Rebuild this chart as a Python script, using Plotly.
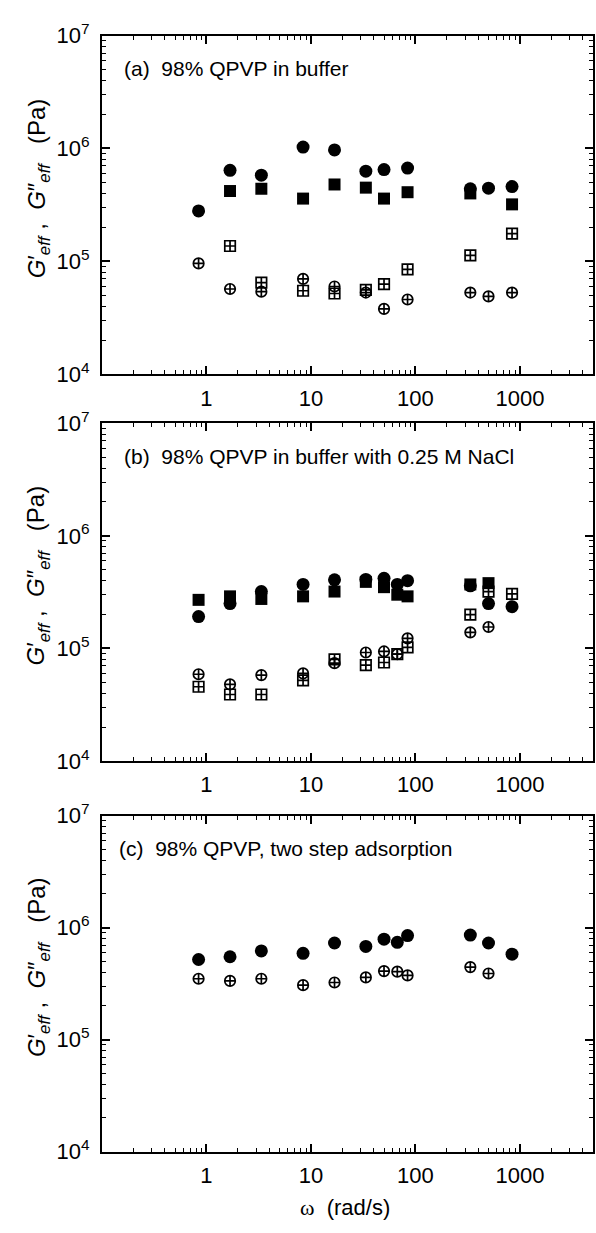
import plotly.graph_objects as go

# ---------------- data ----------------
# panel (a) 98% QPVP in buffer
w_a = [0.84, 1.68, 3.35, 8.4, 16.8, 33.5, 50, 84, 335, 500, 840]
a_fill_circle = [2.8e5, 6.4e5, 5.8e5, 1.03e6, 9.7e5, 6.3e5, 6.5e5, 6.7e5, 4.4e5, 4.45e5, 4.6e5]
w_a_sq = [1.68, 3.35, 8.4, 16.8, 33.5, 50, 84, 335, 840]
a_fill_square = [4.2e5, 4.4e5, 3.6e5, 4.8e5, 4.5e5, 3.6e5, 4.1e5, 4.0e5, 3.2e5]
a_open_square = [1.37e5, 6.5e4, 5.5e4, 5.2e4, 5.6e4, 6.3e4, 8.5e4, 1.13e5, 1.76e5]
a_open_circle = [9.6e4, 5.7e4, 5.4e4, 7.0e4, 6.0e4, 5.3e4, 3.8e4, 4.6e4, 5.3e4, 4.9e4, 5.3e4]

# panel (b) 98% QPVP in buffer with 0.25 M NaCl
w_b = [0.84, 1.68, 3.35, 8.4, 16.8, 33.5, 50, 67, 84, 335, 500, 840]
b_fill_circle = [1.92e5, 2.5e5, 3.2e5, 3.7e5, 4.07e5, 4.1e5, 4.2e5, 3.7e5, 4.0e5, 3.6e5, 2.5e5, 2.35e5]
w_b_sq = [0.84, 1.68, 3.35, 8.4, 16.8, 33.5, 50, 67, 84, 335, 500]
b_fill_square = [2.7e5, 2.9e5, 2.75e5, 2.9e5, 3.2e5, 3.9e5, 3.5e5, 3.0e5, 2.9e5, 3.7e5, 3.8e5]
b_open_square = [4.57e4, 3.9e4, 3.9e4, 5.2e4, 8.0e4, 7.1e4, 7.5e4, 8.9e4, 1.02e5, 2.0e5, 3.2e5, 3.05e5]
w_b_oc = [0.84, 1.68, 3.35, 8.4, 16.8, 33.5, 50, 67, 84, 335, 500]
b_open_circle = [5.9e4, 4.8e4, 5.8e4, 6.0e4, 7.4e4, 9.2e4, 9.4e4, 8.9e4, 1.23e5, 1.39e5, 1.55e5]

# panel (c) 98% QPVP, two step adsorption
w_c = [0.84, 1.68, 3.35, 8.4, 16.8, 33.5, 50, 67, 84, 335, 500, 840]
c_fill_circle = [5.2e5, 5.5e5, 6.2e5, 5.9e5, 7.3e5, 6.8e5, 7.9e5, 7.4e5, 8.5e5, 8.6e5, 7.3e5, 5.8e5]
w_c_oc = [0.84, 1.68, 3.35, 8.4, 16.8, 33.5, 50, 67, 84, 335, 500]
c_open_circle = [3.5e5, 3.35e5, 3.5e5, 3.07e5, 3.24e5, 3.6e5, 4.1e5, 4.05e5, 3.75e5, 4.45e5, 3.9e5]

panel_labels = ["(a)  98% QPVP in buffer",
                "(b)  98% QPVP in buffer with 0.25 M NaCl",
                "(c)  98% QPVP, two step adsorption"]
x_tickvals = [1, 10, 100, 1000]
x_ticktext = ["1", "10", "100", "1000"]
y_tickvals = [1e4, 1e5, 1e6, 1e7]
y_ticktext = ["10<sup>4</sup>", "10<sup>5</sup>", "10<sup>6</sup>", "10<sup>7</sup>"]
x_minor = [m * 10 ** e for e in range(-1, 4) for m in range(2, 10) if m * 10 ** e < 5000]
y_minor = [m * 10 ** e for e in range(4, 7) for m in range(2, 10)]

# ---------------- figure ----------------
W, H = 596, 1233
FONT = "Liberation Sans, Arial, Helvetica, sans-serif"
fig = go.Figure()

def add(x, y, sym, size, lw, k, name):
    xa = "x" if k == 1 else f"x{k}"
    ya = "y" if k == 1 else f"y{k}"
    fig.add_trace(go.Scatter(
        x=x, y=y, mode="markers", xaxis=xa, yaxis=ya, name=name, showlegend=False,
        cliponaxis=False,
        marker=dict(symbol=sym, size=size, color="black",
                    line=dict(color="black", width=lw))))

FS, FC, OS, OC = "square", "circle", "square-cross-open", "circle-cross-open"
add(w_a_sq, a_fill_square, FS, 12, 0, 1, "G' square")
add(w_a, a_fill_circle, FC, 13, 0, 1, "G' circle")
add(w_a_sq, a_open_square, OS, 10.5, 1.7, 1, "G'' square")
add(w_a, a_open_circle, OC, 10.5, 1.7, 1, "G'' circle")

add(w_b_sq, b_fill_square, FS, 12, 0, 2, "G' square")
add(w_b, b_fill_circle, FC, 13, 0, 2, "G' circle")
add(w_b, b_open_square, OS, 10.5, 1.7, 2, "G'' square")
add(w_b_oc, b_open_circle, OC, 10.5, 1.7, 2, "G'' circle")

add(w_c, c_fill_circle, FC, 13, 0, 3, "G' circle")
add(w_c_oc, c_open_circle, OC, 10.5, 1.7, 3, "G'' circle")

# pixel boxes of the three panels: (top, bottom)
boxes = [(20, 367), (417, 763), (819, 1163)]
x_dom = [102 / W, 593 / W]

axis_common = dict(showline=True, linecolor="black", linewidth=2, mirror="allticks",
                   ticks="inside", tickcolor="black", tickwidth=1.6, showgrid=False,
                   zeroline=False, tickfont=dict(family=FONT, size=22, color="black"))

layout = dict(width=W, height=H, margin=dict(l=0, r=0, t=0, b=0),
              paper_bgcolor="white", plot_bgcolor="white", showlegend=False,
              font=dict(family=FONT, color="black"))
annotations = []
for i, (top, bot) in enumerate(boxes):
    k = "" if i == 0 else str(i + 1)
    layout["xaxis" + k] = dict(type="log", range=[-1, 3.699], domain=x_dom,
                               anchor="y" + k, tickmode="array", tickvals=x_tickvals,
                               ticktext=x_ticktext, ticklen=8, ticklabelstandoff=3,
                               minor=dict(tickmode="array", tickvals=x_minor, ticks="inside",
                                          ticklen=4, tickwidth=1.4, tickcolor="black",
                                          showgrid=False),
                               **axis_common)
    layout["yaxis" + k] = dict(type="log", range=[4, 7], domain=[1 - bot / H, 1 - top / H],
                               anchor="x" + k, tickmode="array", tickvals=y_tickvals,
                               ticktext=y_ticktext, ticklen=8, ticklabelstandoff=6,
                               minor=dict(tickmode="array", tickvals=y_minor, ticks="inside",
                                          ticklen=4, tickwidth=1.4, tickcolor="black",
                                          showgrid=False),
                               **axis_common)
    # panel label
    annotations.append(dict(text=panel_labels[i], xref="paper", yref="paper",
                            x=(122 - (i == 2) * 5) / W, y=1 - (top + 34) / H,
                            xanchor="left", yanchor="middle", showarrow=False,
                            font=dict(family=FONT, size=21, color="black")))
    # y-axis title
    annotations.append(dict(text="<i>G</i>′<sub><i>eff</i></sub> ,  <i>G</i>″<sub><i>eff</i></sub>   (Pa)",
                            xref="paper", yref="paper", x=38 / W,
                            y=1 - ((top + bot) / 2 - 17) / H,
                            xanchor="center", yanchor="middle", textangle=-90,
                            showarrow=False, font=dict(family=FONT, size=24, color="black")))

annotations.append(dict(text="<span style='font-family:Liberation Serif, Times New Roman, serif'>ω</span>  (rad/s)",
                        xref="paper", yref="paper", x=345 / W, y=1 - 1220 / H,
                        xanchor="center", yanchor="middle", showarrow=False,
                        font=dict(family=FONT, size=22, color="black")))
layout["annotations"] = annotations
fig.update_layout(**layout)
fig.write_html("out.html")
